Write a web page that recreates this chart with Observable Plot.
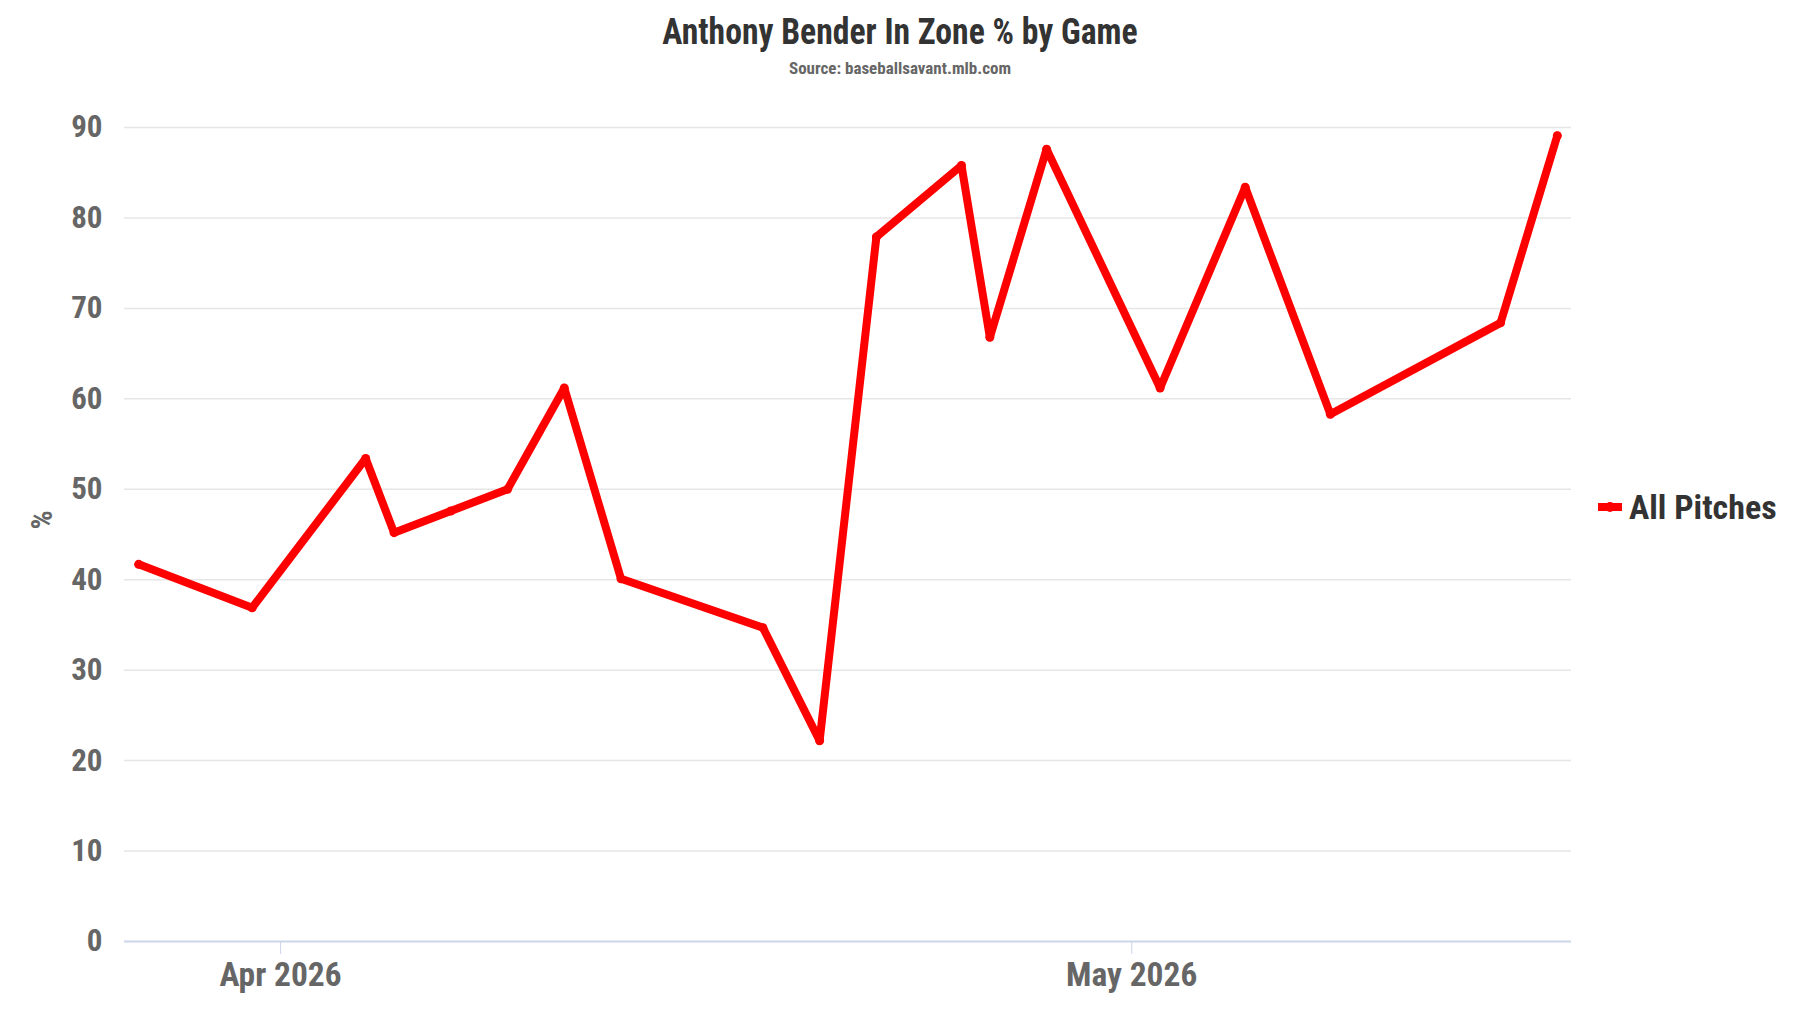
<!DOCTYPE html>
<html>
<head>
<meta charset="utf-8">
<script src="https://cdn.jsdelivr.net/npm/d3@7"></script>
<script src="https://cdn.jsdelivr.net/npm/@observablehq/plot@0.6"></script>
<style>
  html, body { margin: 0; padding: 0; background: #fff; }
  body { width: 1800px; height: 1013px; overflow: hidden; font-family: "Roboto Condensed", Roboto, "Noto Sans", sans-serif; }
  #wrap { position: relative; width: 1800px; height: 1013px; }
  #header { position: relative; width: 1800px; height: 100px; }
  .t { position: absolute; left: 0; width: 1800px; text-align: center; font-weight: 700; white-space: nowrap; }
  #title { top: 11px; font-size: 36px; color: #333; transform: scaleX(0.935); }
  #subtitle { top: 58px; font-size: 17px; color: #666; }
  #legend { position: absolute; left: 1598px; top: 487px; display: flex; align-items: center; white-space: nowrap; }
  #legend svg { display: block; }
  #legend span { font-size: 34px; font-weight: 700; color: #333; margin-left: 7px; display: inline-block; }
  #chart svg { display: block; }
</style>
</head>
<body>
<div id="wrap">
  <div id="header">
    <div id="title" class="t">Anthony Bender In Zone % by Game</div>
    <div id="subtitle" class="t">Source: baseballsavant.mlb.com</div>
  </div>
  <div id="chart"></div>
  <div id="legend"><svg width="24" height="12"><line x1="0" y1="6" x2="24" y2="6" stroke="#ff0000" stroke-width="8"/><circle cx="12" cy="6" r="5" fill="#ff0000"/></svg><span>All Pitches</span></div>
</div>
<script>
const gameDates = ["2026-03-27","2026-03-31","2026-04-04","2026-04-05","2026-04-07","2026-04-09","2026-04-11","2026-04-13","2026-04-18","2026-04-20","2026-04-22","2026-04-25","2026-04-26","2026-04-28","2026-05-02","2026-05-05","2026-05-08","2026-05-14","2026-05-16"];
const inZonePct = [41.7, 36.9, 53.4, 45.2, 47.6, 50.0, 61.2, 40.1, 34.7, 22.2, 77.9, 85.8, 66.8, 87.6, 61.2, 83.4, 58.3, 68.4, 89.1];
const xTickDates = ["2026-04-01","2026-05-01"];
const yTicks = [0,10,20,30,40,50,60,70,80,90];
const seriesName = "All Pitches";

const data = gameDates.map((d, i) => ({date: new Date(d + "T00:00:00Z"), value: inZonePct[i], series: seriesName}));
const xDomain = [new Date("2026-03-26T12:00:00Z"), new Date("2026-05-16T12:00:00Z")];
const fmt = d3.utcFormat("%b %Y");

const plot = Plot.plot({
  width: 1800,
  height: 913,
  marginLeft: 124,
  marginRight: 229,
  marginTop: 27,
  marginBottom: 72,
  style: {fontFamily: '"Roboto Condensed", Roboto, sans-serif', background: "#fff"},
  x: {type: "utc", domain: xDomain},
  y: {domain: [0, 90]},
  marks: [
    Plot.gridY(yTicks.filter(v => v > 0), {stroke: "#e6e6e6", strokeOpacity: 1, strokeWidth: 1.5}),
    Plot.ruleY([0], {stroke: "#ccd6eb", strokeWidth: 2}),
    Plot.axisY({ticks: yTicks, tickSize: 0, tickPadding: 22, fontSize: 31, fontWeight: 700, fill: "#666", label: null}),
    Plot.axisX({ticks: xTickDates.map(d => new Date(d + "T00:00:00Z")), tickFormat: fmt, tickSize: 13, tickPadding: 8, stroke: "#ccd6eb", fontSize: 33.5, fontWeight: 700, fill: "#666", label: null}),
    Plot.text(["%"], {frameAnchor: "left", dx: -82, dy: -5, rotate: -90, fontSize: 30, fontWeight: 700, fill: "#666", text: d => d}),
    Plot.line(data, {x: "date", y: "value", stroke: "#ff0000", strokeWidth: 8, strokeLinejoin: "round", strokeLinecap: "round"}),
    Plot.dot(data, {x: "date", y: "value", r: 4.5, fill: "#ff0000"})
  ]
});
document.getElementById("chart").appendChild(plot);
</script>
</body>
</html>
